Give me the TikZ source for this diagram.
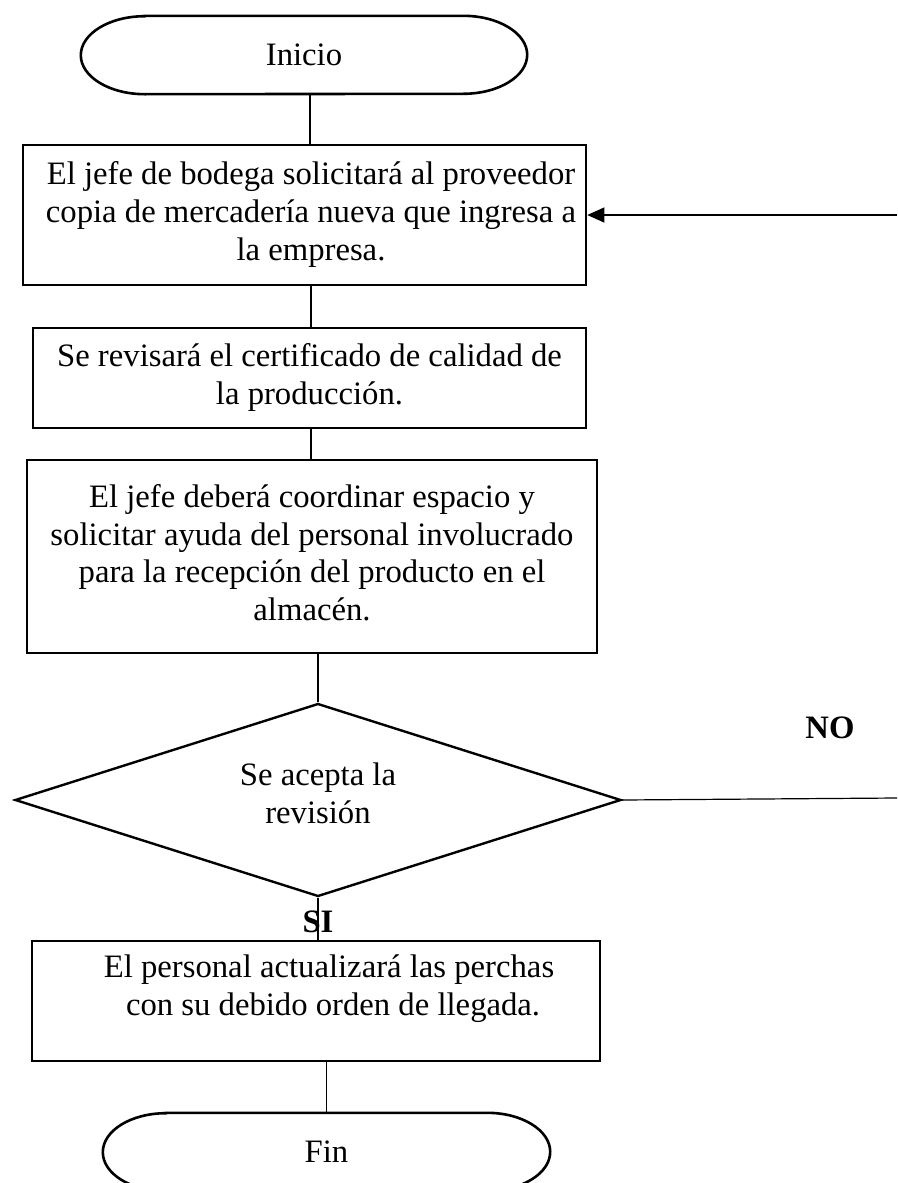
\documentclass[tikz,border=0pt]{standalone}
\usepackage{fontspec}
\setmainfont{Liberation Serif}
\usetikzlibrary{shapes.geometric,arrows.meta}
\newcommand{\mylines}[1]{\begin{tabular}{@{}c@{}}#1\end{tabular}}
\begin{document}
\begin{tikzpicture}[x=1pt,y=-1pt,
  txt/.style={font=\fontsize{32.7}{37.6}\selectfont, align=center},
  procbox/.style={draw, line width=2.6pt, rectangle, inner sep=0pt, txt},
  term/.style={draw=none, rectangle, inner sep=0pt, txt},
  termline/.style={line width=2.6pt},
  conn/.style={line width=1.2pt},
  decision/.style={draw, diamond, line width=2.4pt, inner sep=0pt, txt},
  lbl/.style={font=\fontsize{32.7}{37.6}\selectfont\bfseries}]
\useasboundingbox (0,0) rectangle (897,1183);

% Inicio
\node[term, minimum width=446pt, minimum height=78pt] (inicio) at (304,55) {Inicio};
\draw[termline] ([xshift=64pt]inicio.north west) -- ([xshift=-64pt]inicio.north east)
  arc[start angle=90,end angle=-90,x radius=64pt,y radius=39pt]
  -- ([xshift=64pt]inicio.south west)
  arc[start angle=270,end angle=90,x radius=64pt,y radius=39pt] -- cycle;

% Process boxes
\node[procbox, minimum width=563pt, minimum height=140pt] (b1) at (304.5,215)
  {\hspace*{13pt}\mylines{El jefe de bodega solicitará al proveedor\\copia de mercadería nueva que ingresa a\\la empresa.}};
\node[procbox, minimum width=553pt, minimum height=100pt] (b2) at (309.5,378)
  {\mylines{Se revisará el certificado de calidad de\\la producción.}};
\node[procbox, minimum width=570pt, minimum height=193pt] (b3) at (312,556.5)
  {\mylines{El jefe deberá coordinar espacio y\\solicitar ayuda del personal involucrado\\para la recepción del producto en el\\almacén.}};

% Decision
\node[decision, minimum width=606pt, minimum height=193pt, aspect=3.14] (dec) at (318,800)
  {\raisebox{3pt}[\height][\depth]{\mylines{Se acepta la\\revisión}}};

\node[procbox, minimum width=568pt, minimum height=120pt] (b4) at (316,1001)
  {\hspace*{26pt}\raisebox{12pt}[\height][\depth]{\mylines{El personal actualizará las perchas\\\ con su debido orden de llegada.}}};

% Fin
\node[term, minimum width=447pt, minimum height=78pt] (fin) at (326.5,1152) {Fin};
\draw[termline] ([xshift=63pt]fin.north west) -- ([xshift=-63pt]fin.north east)
  arc[start angle=90,end angle=-90,x radius=63pt,y radius=39pt]
  -- ([xshift=63pt]fin.south west)
  arc[start angle=270,end angle=90,x radius=63pt,y radius=39pt] -- cycle;

% Labels
\node[lbl] (no) at (830,728) {NO};
\node[lbl] (si) at (318,922) {SI};

% Connectors
\draw[conn] ([xshift=6pt]inicio.south) -- ([xshift=6pt]inicio.south |- b1.north);
\draw[conn] ([xshift=6.5pt]b1.south) -- ([xshift=6.5pt]b1.south |- b2.north);
\draw[conn] ([xshift=1.5pt]b2.south) -- ([xshift=1.5pt]b2.south |- b3.north);
\draw[conn] (dec.north) -- (dec.north |- b3.south);
\draw[conn] (dec.south) -- (dec.south |- b4.north);
\draw[conn] (fin.north) -- (fin.north |- b4.south);

\coordinate (noend) at (897,798);
\draw[conn] (dec.east) -- (noend);
\coordinate (retstart) at (897,215);
\draw[conn, -{Triangle[length=17pt,width=15pt]}] (retstart) -- (b1.east);
\end{tikzpicture}
\end{document}
